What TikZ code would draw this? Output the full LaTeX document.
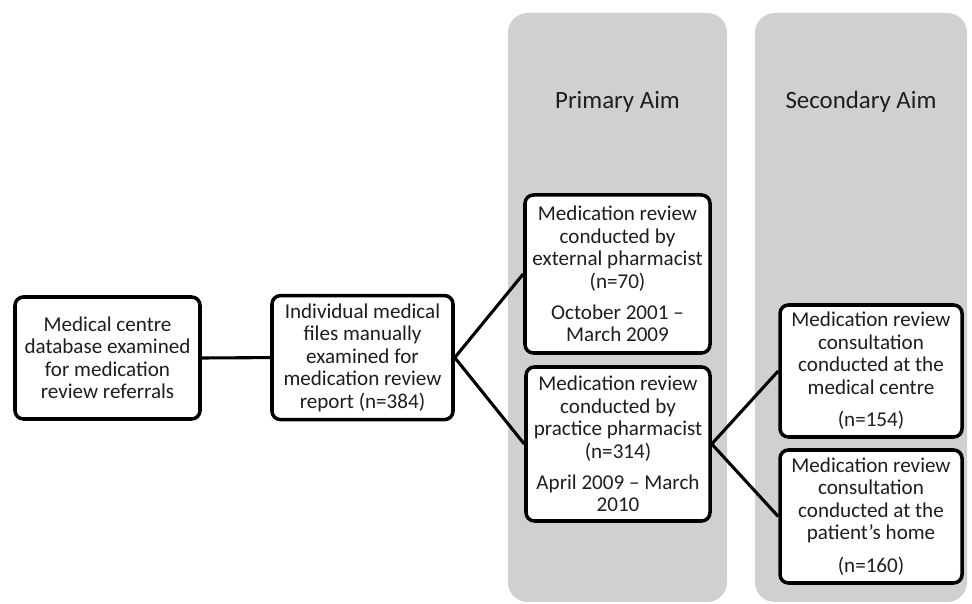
\documentclass[tikz,border=0pt]{standalone}
\usepackage{fontspec}
\setmainfont{Carlito}
\usepackage{tikz}
\usetikzlibrary{
  positioning,
  backgrounds
}
\definecolor{aimgray}{RGB}{208,208,208}
\definecolor{boxtext}{RGB}{30,30,30}

\begin{document}
\begin{tikzpicture}[
  box/.style={
    draw,
    line width=2.5pt,
    rounded corners=6pt,
    fill=white,
    align=center,
    inner sep=2pt,
    text=boxtext,
    font=\fontsize{15}{16}\selectfont
  },
  aimsec/.style={
    fill=aimgray,
    rounded corners=14pt,
    inner sep=0pt
  },
  aimtitle/.style={font=\fontsize{17.7}{20}\selectfont, text=boxtext},
  link/.style={line width=2.2pt}
]

\useasboundingbox (0,0) rectangle (24.3,15.1);

% ==================== AIM PANELS ====================
\node[aimsec, minimum width=5.475cm, minimum height=14.725cm] (primsec) at (15.4375,7.4125) {};
\node[aimsec, minimum width=5.3cm, minimum height=14.725cm] (secsec) at (21.525,7.4125) {};

\node[aimtitle] (primtitle) at (15.4375,12.55) {Primary Aim};
\node[aimtitle] (sectitle) at (21.525,12.55) {Secondary Aim};

% ==================== LEFT BOXES ====================
\node[box, minimum width=4.625cm, minimum height=3.05cm] (db) at (2.6875,6.15) {
  Medical centre \\
  database examined \\
  for medication \\
  review referrals
};

\node[box, minimum width=4.525cm, minimum height=3.1cm] (files) at (9.0625,6.16) {
  Individual medical \\
  files manually \\
  examined for \\
  medication review \\
  report (n=384)
};

% ==================== PRIMARY AIM ====================
\node[box, minimum width=4.625cm, minimum height=3.95cm] (ext) at (15.4375,8.25) {
  Medication review \\
  conducted by \\
  external pharmacist \\
  (n=70) \\[6pt]
  October 2001 – \\
  March 2009
};

\node[box, minimum width=4.6cm, minimum height=3.85cm] (prac) at (15.45,4.0) {
  Medication review \\
  conducted by \\
  practice pharmacist \\
  (n=314) \\[6pt]
  April 2009 – March \\
  2010
};

% ==================== SECONDARY AIM ====================
\node[box, minimum width=4.55cm, minimum height=3.3cm] (centre) at (21.775,5.825) {
  Medication review \\
  consultation \\
  conducted at the \\
  medical centre \\[7pt]
  (n=154)
};

\node[box, minimum width=4.55cm, minimum height=3.325cm] (home) at (21.775,2.1875) {
  Medication review \\
  consultation \\
  conducted at the \\
  patient’s home \\[7pt]
  (n=160)
};

% Connectors
\draw[link] (db.east) -- (files.west);
\draw[link] (files.east) -- (ext.west);
\draw[link] (files.east) -- (prac.west);
\draw[link] (prac.east) -- (centre.west);
\draw[link] (prac.east) -- (home.west);

\end{tikzpicture}
\end{document}
